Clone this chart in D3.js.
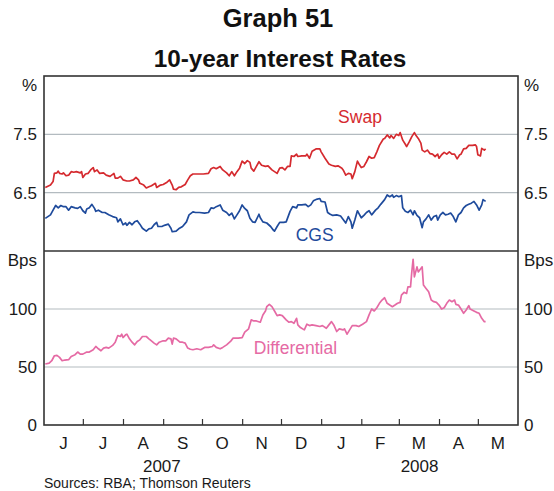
<!DOCTYPE html>
<html><head><meta charset="utf-8">
<script src="https://cdn.jsdelivr.net/npm/d3@7"></script>
<style>
body{margin:0;background:#fff}
svg{display:block}
text{font-family:Arial,"Liberation Sans",Helvetica,sans-serif}
</style>
</head><body>
<svg id="chart" width="554" height="491"></svg>
<script>
// ---------- DATA ----------
const swapSeries = [
["2007-06-02",6.59],["2007-06-06",6.63],["2007-06-08",6.69],["2007-06-09",6.83],["2007-06-11",6.84],["2007-06-12",6.87],["2007-06-13",6.83],["2007-06-15",6.82],["2007-06-16",6.84],["2007-06-18",6.79],["2007-06-20",6.80],["2007-06-22",6.86],["2007-06-24",6.85],["2007-06-26",6.86],["2007-06-29",6.84],["2007-06-30",6.86],
["2007-07-01",6.76],["2007-07-03",6.82],["2007-07-05",6.83],["2007-07-07",6.89],["2007-07-09",6.93],["2007-07-10",6.86],["2007-07-12",6.89],["2007-07-14",6.83],["2007-07-17",6.84],["2007-07-19",6.80],["2007-07-22",6.78],["2007-07-25",6.83],["2007-07-26",6.75],["2007-07-28",6.75],["2007-07-30",6.78],
["2007-08-01",6.72],["2007-08-04",6.70],["2007-08-06",6.70],["2007-08-09",6.72],["2007-08-11",6.76],["2007-08-13",6.72],["2007-08-14",6.66],["2007-08-17",6.63],["2007-08-19",6.58],["2007-08-21",6.60],["2007-08-23",6.62],["2007-08-26",6.66],["2007-08-27",6.59],["2007-08-30",6.63],
["2007-09-01",6.64],["2007-09-04",6.68],["2007-09-06",6.72],["2007-09-08",6.63],["2007-09-09",6.56],["2007-09-11",6.55],["2007-09-13",6.59],["2007-09-15",6.60],["2007-09-18",6.64],["2007-09-20",6.72],["2007-09-22",6.79],["2007-09-24",6.82],["2007-09-28",6.82],
["2007-10-02",6.82],["2007-10-06",6.83],["2007-10-08",6.91],["2007-10-10",6.93],["2007-10-12",6.91],["2007-10-15",6.95],["2007-10-17",6.89],["2007-10-20",6.84],["2007-10-22",6.79],["2007-10-24",6.86],["2007-10-26",6.79],["2007-10-28",6.86],["2007-10-30",6.92],
["2007-11-01",7.04],["2007-11-03",7.00],["2007-11-05",7.05],["2007-11-07",7.02],["2007-11-08",6.92],["2007-11-10",6.87],["2007-11-12",6.95],["2007-11-14",7.03],["2007-11-16",6.97],["2007-11-19",6.95],["2007-11-21",6.96],["2007-11-24",6.89],["2007-11-26",6.86],["2007-11-28",6.83],["2007-11-30",6.92],
["2007-12-02",6.93],["2007-12-04",6.89],["2007-12-06",6.95],["2007-12-08",6.95],["2007-12-09",7.13],["2007-12-11",7.12],["2007-12-13",7.16],["2007-12-14",7.12],["2007-12-17",7.13],["2007-12-20",7.13],["2007-12-21",7.16],["2007-12-23",7.09],["2007-12-25",7.21],["2007-12-28",7.25],["2007-12-31",7.25],
["2008-01-01",7.20],["2008-01-04",7.09],["2008-01-07",6.99],["2008-01-09",6.97],["2008-01-12",6.95],["2008-01-14",6.96],["2008-01-17",6.92],["2008-01-18",6.89],["2008-01-20",6.80],["2008-01-22",6.83],["2008-01-24",6.82],["2008-01-25",6.74],["2008-01-27",6.86],["2008-01-29",7.04],["2008-01-30",7.00],
["2008-02-01",6.93],["2008-02-03",6.95],["2008-02-05",7.03],["2008-02-07",7.12],["2008-02-09",7.09],["2008-02-11",7.10],["2008-02-13",7.20],["2008-02-15",7.31],["2008-02-18",7.42],["2008-02-19",7.43],["2008-02-21",7.49],["2008-02-23",7.44],["2008-02-24",7.48],["2008-02-26",7.43],["2008-02-28",7.50],
["2008-03-01",7.48],["2008-03-02",7.53],["2008-03-04",7.40],["2008-03-06",7.33],["2008-03-07",7.29],["2008-03-09",7.37],["2008-03-11",7.46],["2008-03-13",7.53],["2008-03-14",7.49],["2008-03-16",7.43],["2008-03-18",7.35],["2008-03-19",7.23],["2008-03-21",7.20],["2008-03-23",7.23],["2008-03-25",7.17],["2008-03-27",7.16],["2008-03-29",7.12],["2008-03-31",7.16],
["2008-04-01",7.09],["2008-04-03",7.15],["2008-04-05",7.19],["2008-04-07",7.16],["2008-04-09",7.20],["2008-04-11",7.16],["2008-04-13",7.16],["2008-04-15",7.08],["2008-04-17",7.15],["2008-04-18",7.16],["2008-04-20",7.25],["2008-04-22",7.26],["2008-04-24",7.31],["2008-04-27",7.31],["2008-04-29",7.32],["2008-04-30",7.29],
["2008-05-01",7.15],["2008-05-03",7.13],["2008-05-04",7.26],["2008-05-06",7.23],["2008-05-07",7.25]
];

const cgsSeries = [
["2007-06-02",6.06],["2007-06-06",6.12],["2007-06-08",6.20],["2007-06-10",6.28],["2007-06-12",6.24],["2007-06-14",6.28],["2007-06-16",6.26],["2007-06-18",6.26],["2007-06-20",6.20],["2007-06-22",6.26],["2007-06-25",6.24],["2007-06-27",6.23],["2007-06-29",6.26],
["2007-07-01",6.19],["2007-07-03",6.15],["2007-07-04",6.22],["2007-07-06",6.24],["2007-07-08",6.30],["2007-07-10",6.23],["2007-07-11",6.18],["2007-07-13",6.20],["2007-07-16",6.16],["2007-07-18",6.16],["2007-07-21",6.12],["2007-07-24",6.09],["2007-07-27",6.07],["2007-07-28",6.00],["2007-07-30",6.05],
["2007-08-01",5.95],["2007-08-03",5.98],["2007-08-04",5.94],["2007-08-06",5.99],["2007-08-08",5.95],["2007-08-10",6.00],["2007-08-12",6.02],["2007-08-14",5.96],["2007-08-16",5.89],["2007-08-19",5.84],["2007-08-21",5.88],["2007-08-23",5.89],["2007-08-25",5.95],["2007-08-27",5.99],["2007-08-28",5.92],["2007-08-31",5.92],
["2007-09-02",5.94],["2007-09-05",5.96],["2007-09-07",5.89],["2007-09-08",5.83],["2007-09-11",5.84],["2007-09-13",5.88],["2007-09-16",5.92],["2007-09-19",6.00],["2007-09-21",6.12],["2007-09-24",6.17],["2007-09-26",6.16],["2007-09-29",6.16],
["2007-10-03",6.15],["2007-10-06",6.16],["2007-10-08",6.24],["2007-10-10",6.23],["2007-10-12",6.26],["2007-10-15",6.29],["2007-10-17",6.20],["2007-10-20",6.16],["2007-10-22",6.11],["2007-10-24",6.15],["2007-10-26",6.05],["2007-10-28",6.12],["2007-10-30",6.19],
["2007-11-01",6.29],["2007-11-03",6.23],["2007-11-05",6.19],["2007-11-07",6.06],["2007-11-09",6.00],["2007-11-11",5.99],["2007-11-14",6.13],["2007-11-15",6.07],["2007-11-17",6.00],["2007-11-20",5.98],["2007-11-23",5.92],["2007-11-25",5.86],["2007-11-26",5.84],["2007-11-28",5.92],["2007-11-30",5.99],
["2007-12-03",5.99],["2007-12-05",6.00],["2007-12-08",6.18],["2007-12-10",6.26],["2007-12-13",6.24],["2007-12-14",6.29],["2007-12-17",6.29],["2007-12-20",6.30],["2007-12-22",6.26],["2007-12-24",6.29],["2007-12-26",6.36],["2007-12-29",6.39],["2007-12-31",6.40],
["2008-01-01",6.35],["2008-01-04",6.34],["2008-01-06",6.16],["2008-01-08",6.13],["2008-01-10",6.11],["2008-01-13",6.12],["2008-01-16",6.10],["2008-01-18",6.04],["2008-01-20",5.98],["2008-01-22",6.09],["2008-01-24",6.00],["2008-01-25",5.89],["2008-01-27",6.03],["2008-01-29",6.19],["2008-01-30",6.15],
["2008-02-01",6.07],["2008-02-03",6.11],["2008-02-05",6.16],["2008-02-07",6.19],["2008-02-09",6.12],["2008-02-12",6.20],["2008-02-14",6.24],["2008-02-16",6.30],["2008-02-19",6.38],["2008-02-21",6.46],["2008-02-23",6.43],["2008-02-25",6.46],["2008-02-26",6.42],["2008-02-28",6.45],
["2008-03-01",6.43],["2008-03-03",6.45],["2008-03-04",6.24],["2008-03-06",6.18],["2008-03-08",6.16],["2008-03-10",6.20],["2008-03-12",6.12],["2008-03-13",6.19],["2008-03-15",6.11],["2008-03-17",6.07],["2008-03-19",5.90],["2008-03-20",6.00],["2008-03-22",6.05],["2008-03-24",6.12],["2008-03-26",6.03],["2008-03-28",6.09],["2008-03-30",6.11],["2008-03-31",6.03],
["2008-04-02",6.12],["2008-04-04",6.16],["2008-04-06",6.12],["2008-04-08",6.13],["2008-04-10",6.15],["2008-04-12",6.09],["2008-04-14",6.00],["2008-04-16",6.12],["2008-04-18",6.16],["2008-04-20",6.24],["2008-04-22",6.28],["2008-04-24",6.30],["2008-04-26",6.32],["2008-04-28",6.35],["2008-04-30",6.29],
["2008-05-02",6.20],["2008-05-04",6.29],["2008-05-05",6.38],["2008-05-07",6.35]
];

const differentialSeries = [
["2007-06-02",52.6],["2007-06-05",53.4],["2007-06-07",55.4],["2007-06-09",59.7],["2007-06-11",60.0],["2007-06-13",58.3],["2007-06-15",55.4],["2007-06-17",56.0],["2007-06-20",56.3],["2007-06-22",59.1],["2007-06-25",60.6],["2007-06-27",62.9],["2007-06-29",61.1],
["2007-07-01",61.1],["2007-07-04",62.9],["2007-07-06",62.9],["2007-07-09",64.9],["2007-07-11",67.7],["2007-07-13",65.7],["2007-07-15",64.0],["2007-07-17",66.3],["2007-07-19",66.9],["2007-07-21",66.3],["2007-07-24",68.6],["2007-07-26",71.4],["2007-07-28",77.1],["2007-07-30",76.3],["2007-07-31",78.3],
["2007-08-01",75.4],["2007-08-03",77.7],["2007-08-04",78.3],["2007-08-06",74.3],["2007-08-08",71.4],["2007-08-10",69.1],["2007-08-12",72.0],["2007-08-14",73.4],["2007-08-16",76.3],["2007-08-19",76.3],["2007-08-21",74.3],["2007-08-22",73.4],["2007-08-25",70.6],["2007-08-27",69.1],["2007-08-29",71.4],
["2007-09-01",72.6],["2007-09-03",72.6],["2007-09-05",74.9],["2007-09-07",74.3],["2007-09-08",69.7],["2007-09-09",74.9],["2007-09-11",74.3],["2007-09-14",71.4],["2007-09-16",71.4],["2007-09-18",70.6],["2007-09-20",66.3],["2007-09-22",65.3],["2007-09-24",64.9],["2007-09-27",65.7],["2007-09-30",64.9],
["2007-10-03",66.9],["2007-10-06",66.9],["2007-10-09",67.7],["2007-10-10",69.1],["2007-10-12",66.9],["2007-10-15",65.7],["2007-10-17",66.9],["2007-10-20",69.1],["2007-10-23",72.0],["2007-10-25",74.9],["2007-10-29",74.9],
["2007-11-01",75.4],["2007-11-03",80.0],["2007-11-06",82.9],["2007-11-08",90.6],["2007-11-10",89.7],["2007-11-12",89.7],["2007-11-15",88.6],["2007-11-17",94.9],["2007-11-19",98.3],["2007-11-20",102.0],["2007-11-22",104.0],["2007-11-24",102.0],["2007-11-26",98.3],["2007-11-28",94.3],["2007-11-30",94.9],
["2007-12-02",94.3],["2007-12-05",90.6],["2007-12-07",88.6],["2007-12-09",89.1],["2007-12-11",87.7],["2007-12-13",92.0],["2007-12-14",86.3],["2007-12-16",84.0],["2007-12-19",82.0],["2007-12-21",86.9],["2007-12-23",85.7],["2007-12-25",86.3],["2007-12-28",85.7],["2007-12-31",84.9],
["2008-01-02",85.7],["2008-01-05",83.4],["2008-01-07",86.3],["2008-01-09",89.1],["2008-01-11",85.7],["2008-01-13",80.6],["2008-01-15",82.9],["2008-01-18",82.0],["2008-01-19",82.9],["2008-01-21",78.3],["2008-01-23",82.0],["2008-01-25",85.7],["2008-01-28",85.7],["2008-01-30",84.9],
["2008-02-02",86.9],["2008-02-05",89.1],["2008-02-07",94.9],["2008-02-09",100.0],["2008-02-11",98.3],["2008-02-13",101.1],["2008-02-15",104.9],["2008-02-17",107.7],["2008-02-19",109.7],["2008-02-21",104.9],["2008-02-23",103.4],["2008-02-25",102.0],["2008-02-27",103.4],["2008-02-29",104.9],
["2008-03-02",105.7],["2008-03-03",112.0],["2008-03-05",114.3],["2008-03-07",113.4],["2008-03-08",119.1],["2008-03-10",119.1],["2008-03-11",132.0],["2008-03-12",142.9],["2008-03-13",127.7],["2008-03-15",136.3],["2008-03-16",132.0],["2008-03-17",133.4],["2008-03-19",136.3],["2008-03-20",120.6],["2008-03-22",117.7],["2008-03-24",114.9],["2008-03-26",107.7],["2008-03-28",106.3],["2008-03-30",105.7],
["2008-04-01",103.4],["2008-04-03",100.0],["2008-04-05",101.1],["2008-04-07",104.9],["2008-04-09",107.7],["2008-04-11",106.3],["2008-04-13",107.7],["2008-04-14",104.0],["2008-04-16",103.4],["2008-04-18",100.0],["2008-04-20",96.3],["2008-04-22",99.1],["2008-04-24",102.9],["2008-04-25",100.0],["2008-04-28",98.3],["2008-04-30",97.1],
["2008-05-02",96.3],["2008-05-04",92.0],["2008-05-06",89.1],["2008-05-07",89.1]
];

const monthLabels = ["J","J","A","S","O","N","D","J","F","M","A","M"];
const yearLabels = ["2007","2008"];
const topTicks = [6.5, 7.5];
const bottomTicks = [0, 50, 100];
const titleText = "Graph 51";
const subtitleText = "10-year Interest Rates";
const sourceText = "Sources: RBA; Thomson Reuters";

// ---------- LAYOUT ----------
const parse = d3.timeParse("%Y-%m-%d");
const L = 44, R = 518, T = 76, M = 251, B = 425;
const FONT_TICK = 17;
const svg = d3.select("#chart");

const x = d3.scaleTime().domain([parse("2007-06-01"), parse("2008-06-01")]).range([L, R]);
const yTop = d3.scaleLinear().domain([5.5, 8.5]).range([M, T]);
const yBot = d3.scaleLinear().domain([0, 150]).range([B, M]);

const gridColor = "#b3bbc0", axisColor = "#333333", textColor = "#1a1a1a";

// gridlines
svg.append("g").selectAll("line").data(topTicks).join("line")
  .attr("x1", L).attr("x2", R).attr("y1", d => yTop(d)).attr("y2", d => yTop(d))
  .attr("stroke", gridColor).attr("stroke-width", 1.2);
svg.append("g").selectAll("line").data(bottomTicks.filter(d => d > 0)).join("line")
  .attr("x1", L).attr("x2", R).attr("y1", d => yBot(d)).attr("y2", d => yBot(d))
  .attr("stroke", gridColor).attr("stroke-width", 1.2);

// lines
function drawLine(data, yScale, color) {
  const line = d3.line().x(d => x(parse(d[0]))).y(d => yScale(d[1]));
  svg.append("path").datum(data).attr("d", line)
    .attr("fill", "none").attr("stroke", color).attr("stroke-width", 1.7)
    .attr("stroke-linejoin", "round");
}
drawLine(swapSeries, yTop, "#d52a2f");
drawLine(cgsSeries, yTop, "#1f4b9c");
drawLine(differentialSeries, yBot, "#e56aa4");

// frame
svg.append("rect").attr("x", L).attr("y", T).attr("width", R - L).attr("height", B - T)
  .attr("fill", "none").attr("stroke", axisColor).attr("stroke-width", 1.6);
svg.append("line").attr("x1", L).attr("x2", R).attr("y1", M).attr("y2", M)
  .attr("stroke", axisColor).attr("stroke-width", 1.6);

// x axis ticks (inward)
const xAxis = d3.axisBottom(x).tickValues(d3.timeMonth.range(parse("2007-07-01"), parse("2008-06-01")))
  .tickSize(-6).tickFormat("");
const gx = svg.append("g").attr("transform", `translate(0,${B})`).call(xAxis);
gx.select(".domain").remove();
gx.selectAll(".tick line").attr("stroke", axisColor).attr("stroke-width", 1.2);

// month labels
const monthStarts = d3.timeMonth.range(parse("2007-06-01"), parse("2008-06-01"));
svg.append("g").selectAll("text").data(monthStarts).join("text")
  .attr("x", d => (x(d) + x(d3.timeMonth.offset(d, 1))) / 2)
  .attr("y", 449).attr("text-anchor", "middle")
  .attr("font-size", FONT_TICK).attr("fill", textColor)
  .text((d, i) => monthLabels[i]);

// year labels
const yearAnchors = [parse("2007-08-31"), parse("2008-03-17")];
svg.append("g").selectAll("text").data(yearLabels).join("text")
  .attr("x", (d, i) => x(yearAnchors[i])).attr("y", 472).attr("text-anchor", "middle")
  .attr("font-size", FONT_TICK).attr("fill", textColor).text(d => d);

// y tick labels
function yLabels(ticks, scale, unit, unitY) {
  [[L - 7, "end"], [R + 6, "start"]].forEach(([px, anchor]) => {
    const g = svg.append("g");
    g.selectAll("text.t").data(ticks).join("text").attr("class", "t")
      .attr("x", px).attr("y", d => scale(d)).attr("dy", "0.36em")
      .attr("text-anchor", anchor).attr("font-size", FONT_TICK).attr("fill", textColor)
      .text(d => d3.format("")(d));
    g.append("text").attr("x", px).attr("y", unitY).attr("text-anchor", anchor)
      .attr("font-size", FONT_TICK).attr("fill", textColor).text(unit);
  });
}
yLabels(topTicks, yTop, "%", T + 15);
yLabels(bottomTicks, yBot, "Bps", M + 15);

// series labels
svg.append("text").attr("x", x(parse("2008-01-31"))).attr("y", 123).attr("text-anchor", "middle")
  .attr("font-size", 17.5).attr("fill", "#d52a2f").text("Swap");
svg.append("text").attr("x", x(parse("2007-12-27"))).attr("y", 241).attr("text-anchor", "middle")
  .attr("font-size", 17.5).attr("fill", "#1f4b9c").text("CGS");
svg.append("text").attr("x", x(parse("2007-11-10"))).attr("y", 354).attr("text-anchor", "start")
  .attr("font-size", 17.5).attr("fill", "#e56aa4").text("Differential");

// titles
svg.append("text").attr("x", 278).attr("y", 27).attr("text-anchor", "middle")
  .attr("font-size", 25.5).attr("font-weight", "bold").attr("fill", "#111").text(titleText);
svg.append("text").attr("x", 280).attr("y", 67).attr("text-anchor", "middle")
  .attr("font-size", 24.3).attr("font-weight", "bold").attr("fill", "#111").text(subtitleText);

// source
svg.append("text").attr("x", 44).attr("y", 488).attr("font-size", 14)
  .attr("fill", textColor).text(sourceText);
</script>
</body></html>
